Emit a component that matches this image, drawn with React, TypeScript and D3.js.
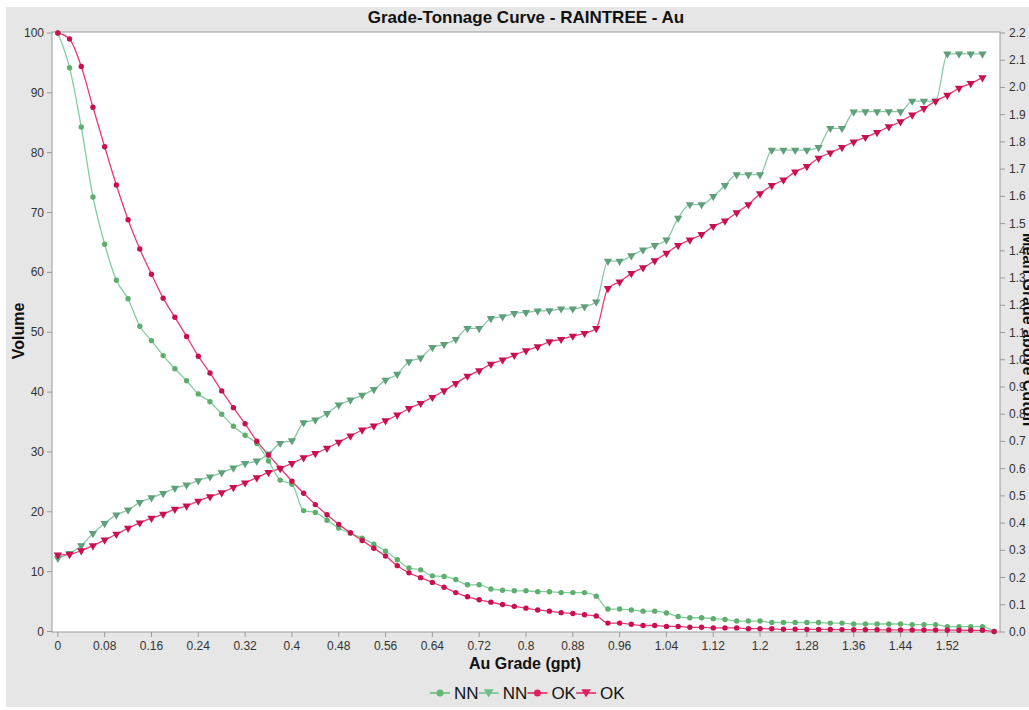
import React from "react";
import * as d3 from "d3";

const cutoffs = [0,0.02,0.04,0.06,0.08,0.1,0.12,0.14,0.16,0.18,0.2,0.22,0.24,0.26,0.28,0.3,0.32,0.34,0.36,0.38,0.4,0.42,0.44,0.46,0.48,0.5,0.52,0.54,0.56,0.58,0.6,0.62,0.64,0.66,0.68,0.7,0.72,0.74,0.76,0.78,0.8,0.82,0.84,0.86,0.88,0.9,0.92,0.94,0.96,0.98,1.0,1.02,1.04,1.06,1.08,1.1,1.12,1.14,1.16,1.18,1.2,1.22,1.24,1.26,1.28,1.3,1.32,1.34,1.36,1.38,1.4,1.42,1.44,1.46,1.48,1.5,1.52,1.54,1.56,1.58,1.6];

const nnVolume = [100,94.2,84.3,72.6,64.7,58.7,55.6,51.0,48.6,46.1,43.9,41.9,39.7,38.4,36.3,34.3,32.8,31.4,28.5,25.3,24.6,20.2,19.9,18.6,17.3,16.4,15.6,14.6,13.4,12.0,10.6,10.3,9.3,9.2,8.7,7.8,7.8,7.1,6.9,6.8,6.8,6.65,6.65,6.5,6.5,6.5,5.9,3.75,3.75,3.6,3.4,3.4,3.1,2.5,2.3,2.3,2.15,2.0,1.75,1.75,1.75,1.5,1.5,1.5,1.5,1.5,1.4,1.4,1.25,1.25,1.25,1.25,1.25,1.15,1.15,1.15,0.8,0.8,0.8,0.8,0];

const okVolume = [100,99.0,94.4,87.6,81.0,74.6,68.8,63.9,59.7,55.7,52.5,49.3,46.0,43.2,40.2,37.4,34.7,31.8,29.5,27.3,25.1,23.1,21.2,19.5,17.9,16.5,15.2,13.9,12.6,11.0,9.8,9.0,8.2,7.4,6.5,5.8,5.3,4.9,4.5,4.2,3.9,3.6,3.4,3.15,3.0,2.8,2.6,1.4,1.4,1.2,1.0,1.0,0.85,0.85,0.7,0.7,0.6,0.6,0.6,0.47,0.47,0.45,0.37,0.37,0.35,0.35,0.33,0.32,0.3,0.3,0.3,0.27,0.27,0.25,0.25,0.25,0.22,0.22,0.2,0.2,0];

const nnGrade = [0.271,0.289,0.317,0.362,0.399,0.430,0.448,0.476,0.493,0.509,0.528,0.540,0.556,0.570,0.585,0.603,0.619,0.628,0.654,0.693,0.703,0.769,0.779,0.803,0.834,0.852,0.870,0.891,0.925,0.947,0.993,1.007,1.045,1.056,1.075,1.115,1.115,1.152,1.158,1.170,1.174,1.179,1.180,1.187,1.187,1.195,1.212,1.362,1.362,1.382,1.403,1.42,1.44,1.52,1.57,1.57,1.60,1.64,1.68,1.68,1.68,1.77,1.77,1.77,1.77,1.78,1.85,1.85,1.91,1.911,1.911,1.911,1.911,1.95,1.95,1.95,2.123,2.123,2.123,2.123];

const okGrade = [0.283,0.285,0.299,0.317,0.338,0.359,0.381,0.401,0.418,0.433,0.451,0.463,0.481,0.497,0.512,0.531,0.548,0.567,0.586,0.601,0.619,0.640,0.656,0.675,0.697,0.720,0.742,0.757,0.776,0.797,0.821,0.840,0.862,0.886,0.913,0.940,0.960,0.984,0.999,1.017,1.033,1.048,1.066,1.075,1.087,1.097,1.115,1.262,1.286,1.317,1.338,1.364,1.391,1.42,1.44,1.46,1.49,1.51,1.54,1.57,1.61,1.64,1.66,1.69,1.71,1.74,1.76,1.78,1.80,1.817,1.835,1.856,1.874,1.899,1.923,1.950,1.972,1.997,2.015,2.036];

const xTicks = [0,0.08,0.16,0.24,0.32,0.4,0.48,0.56,0.64,0.72,0.8,0.88,0.96,1.04,1.12,1.2,1.28,1.36,1.44,1.52];
const yLeftTicks = [0,10,20,30,40,50,60,70,80,90,100];
const yRightTicks = [0,0.1,0.2,0.3,0.4,0.5,0.6,0.7,0.8,0.9,1.0,1.1,1.2,1.3,1.4,1.5,1.6,1.7,1.8,1.9,2.0,2.1,2.2];

const legendItems = [
  { label: "NN", color: "#62b873", shape: "circle" },
  { label: "NN", color: "#6cbf88", shape: "triangle" },
  { label: "OK", color: "#e0205f", shape: "circle" },
  { label: "OK", color: "#e0205f", shape: "triangle" },
];

const FONT = "'Liberation Sans', Arial, sans-serif";

export default function App() {
  const W = 1029, H = 710;
  const L = 52, R = 1000, T = 32, B = 632;
  const x = d3.scaleLinear().domain([-0.01, 1.61]).range([L, R]);
  const yL = d3.scaleLinear().domain([0, 100]).range([631.5, 33]);
  const yR = d3.scaleLinear().domain([0, 2.2]).range([632, 33]);

  const volLine = d3.line<number>().x((_, i) => x(cutoffs[i])).y((d) => yL(d)).curve(d3.curveMonotoneX);
  const gradeLine = d3.line<number>().x((_, i) => x(cutoffs[i])).y((d) => yR(d)).curve(d3.curveMonotoneX);

  const tri = d3.symbol().type(d3.symbolTriangle).size(30)();

  const nnLineC = "#7fd09c";
  const nnMarkC = "#5fae6e";
  const nnGLineC = "#86c9a6";
  const nnGMarkC = "#5f9f7a";
  const okLineC = "#ea3a70";
  const okMarkC = "#c8104f";

  return (
    <svg width={W} height={H} style={{ position: "absolute", left: 0, top: 0 }} fontFamily={FONT}>
      <rect x={0} y={0} width={W} height={H} fill="#ffffff" />
      <rect x={6} y={7} width={W - 6} height={700} fill="#e6e6e6" />
      <rect x={L} y={T} width={R - L} height={B - T} fill="#ffffff" stroke="#9a9a9a" strokeWidth={1} />

      <text x={526} y={23} textAnchor="middle" fontSize={17} fontWeight="bold" fill="#111">Grade-Tonnage Curve - RAINTREE - Au</text>

      {yLeftTicks.map((t) => (
        <g key={"l" + t}>
          <line x1={L - 5} x2={L} y1={yL(t)} y2={yL(t)} stroke="#999" />
          <text x={L - 8} y={yL(t) + 4} textAnchor="end" fontSize={12} fill="#333">{t}</text>
        </g>
      ))}
      {yRightTicks.map((t) => (
        <g key={"r" + t}>
          <line x1={R} x2={R + 5} y1={yR(t)} y2={yR(t)} stroke="#999" />
          <text x={R + 9} y={yR(t) + 4} textAnchor="start" fontSize={12} fill="#333">{t.toFixed(1)}</text>
        </g>
      ))}
      {xTicks.map((t) => (
        <g key={"x" + t}>
          <line x1={x(t)} x2={x(t)} y1={B} y2={B + 5} stroke="#999" />
          <text x={x(t)} y={B + 18} textAnchor="middle" fontSize={12} fill="#333">{String(t)}</text>
        </g>
      ))}

      <text x={525} y={669} textAnchor="middle" fontSize={16} fontWeight="bold" fill="#111">Au Grade (gpt)</text>
      <text transform="translate(24,331) rotate(-90)" textAnchor="middle" fontSize={16} fontWeight="bold" fill="#111">Volume</text>
      <text transform="translate(1023,330) rotate(90)" textAnchor="middle" fontSize={16} fontWeight="bold" fill="#111">Mean Grade above Cutoff</text>

      <path d={gradeLine(nnGrade) || ""} fill="none" stroke={nnGLineC} strokeWidth={1.3} />
      <path d={gradeLine(okGrade) || ""} fill="none" stroke={okLineC} strokeWidth={1.3} />
      <path d={volLine(nnVolume) || ""} fill="none" stroke={nnLineC} strokeWidth={1.3} />
      <path d={volLine(okVolume) || ""} fill="none" stroke={okLineC} strokeWidth={1.3} />

      {nnGrade.map((d, i) => (
        <path key={"ng" + i} d={tri || ""} transform={`translate(${x(cutoffs[i])},${yR(d)}) rotate(180)`} fill={nnGMarkC} />
      ))}
      {okGrade.map((d, i) => (
        <path key={"og" + i} d={tri || ""} transform={`translate(${x(cutoffs[i])},${yR(d)}) rotate(180)`} fill={okMarkC} />
      ))}
      {nnVolume.map((d, i) => (
        <circle key={"nv" + i} cx={x(cutoffs[i])} cy={yL(d)} r={2.7} fill={nnMarkC} />
      ))}
      {okVolume.map((d, i) => (
        <circle key={"ov" + i} cx={x(cutoffs[i])} cy={yL(d)} r={2.7} fill={okMarkC} />
      ))}

      {legendItems.map((it, i) => {
        const cx = 440 + i * 48.7;
        return (
          <g key={"lg" + i}>
            <line x1={cx - 10} x2={cx + 10} y1={693} y2={693} stroke={it.color} strokeWidth={1.5} />
            {it.shape === "circle" ? (
              <circle cx={cx} cy={693} r={3.5} fill={it.color} />
            ) : (
              <path d={d3.symbol().type(d3.symbolTriangle).size(40)() || ""} transform={`translate(${cx},${692}) rotate(180)`} fill={it.color} />
            )}
            <text x={cx + 14} y={699} fontSize={17} fill="#111">{it.label}</text>
          </g>
        );
      })}
    </svg>
  );
}
